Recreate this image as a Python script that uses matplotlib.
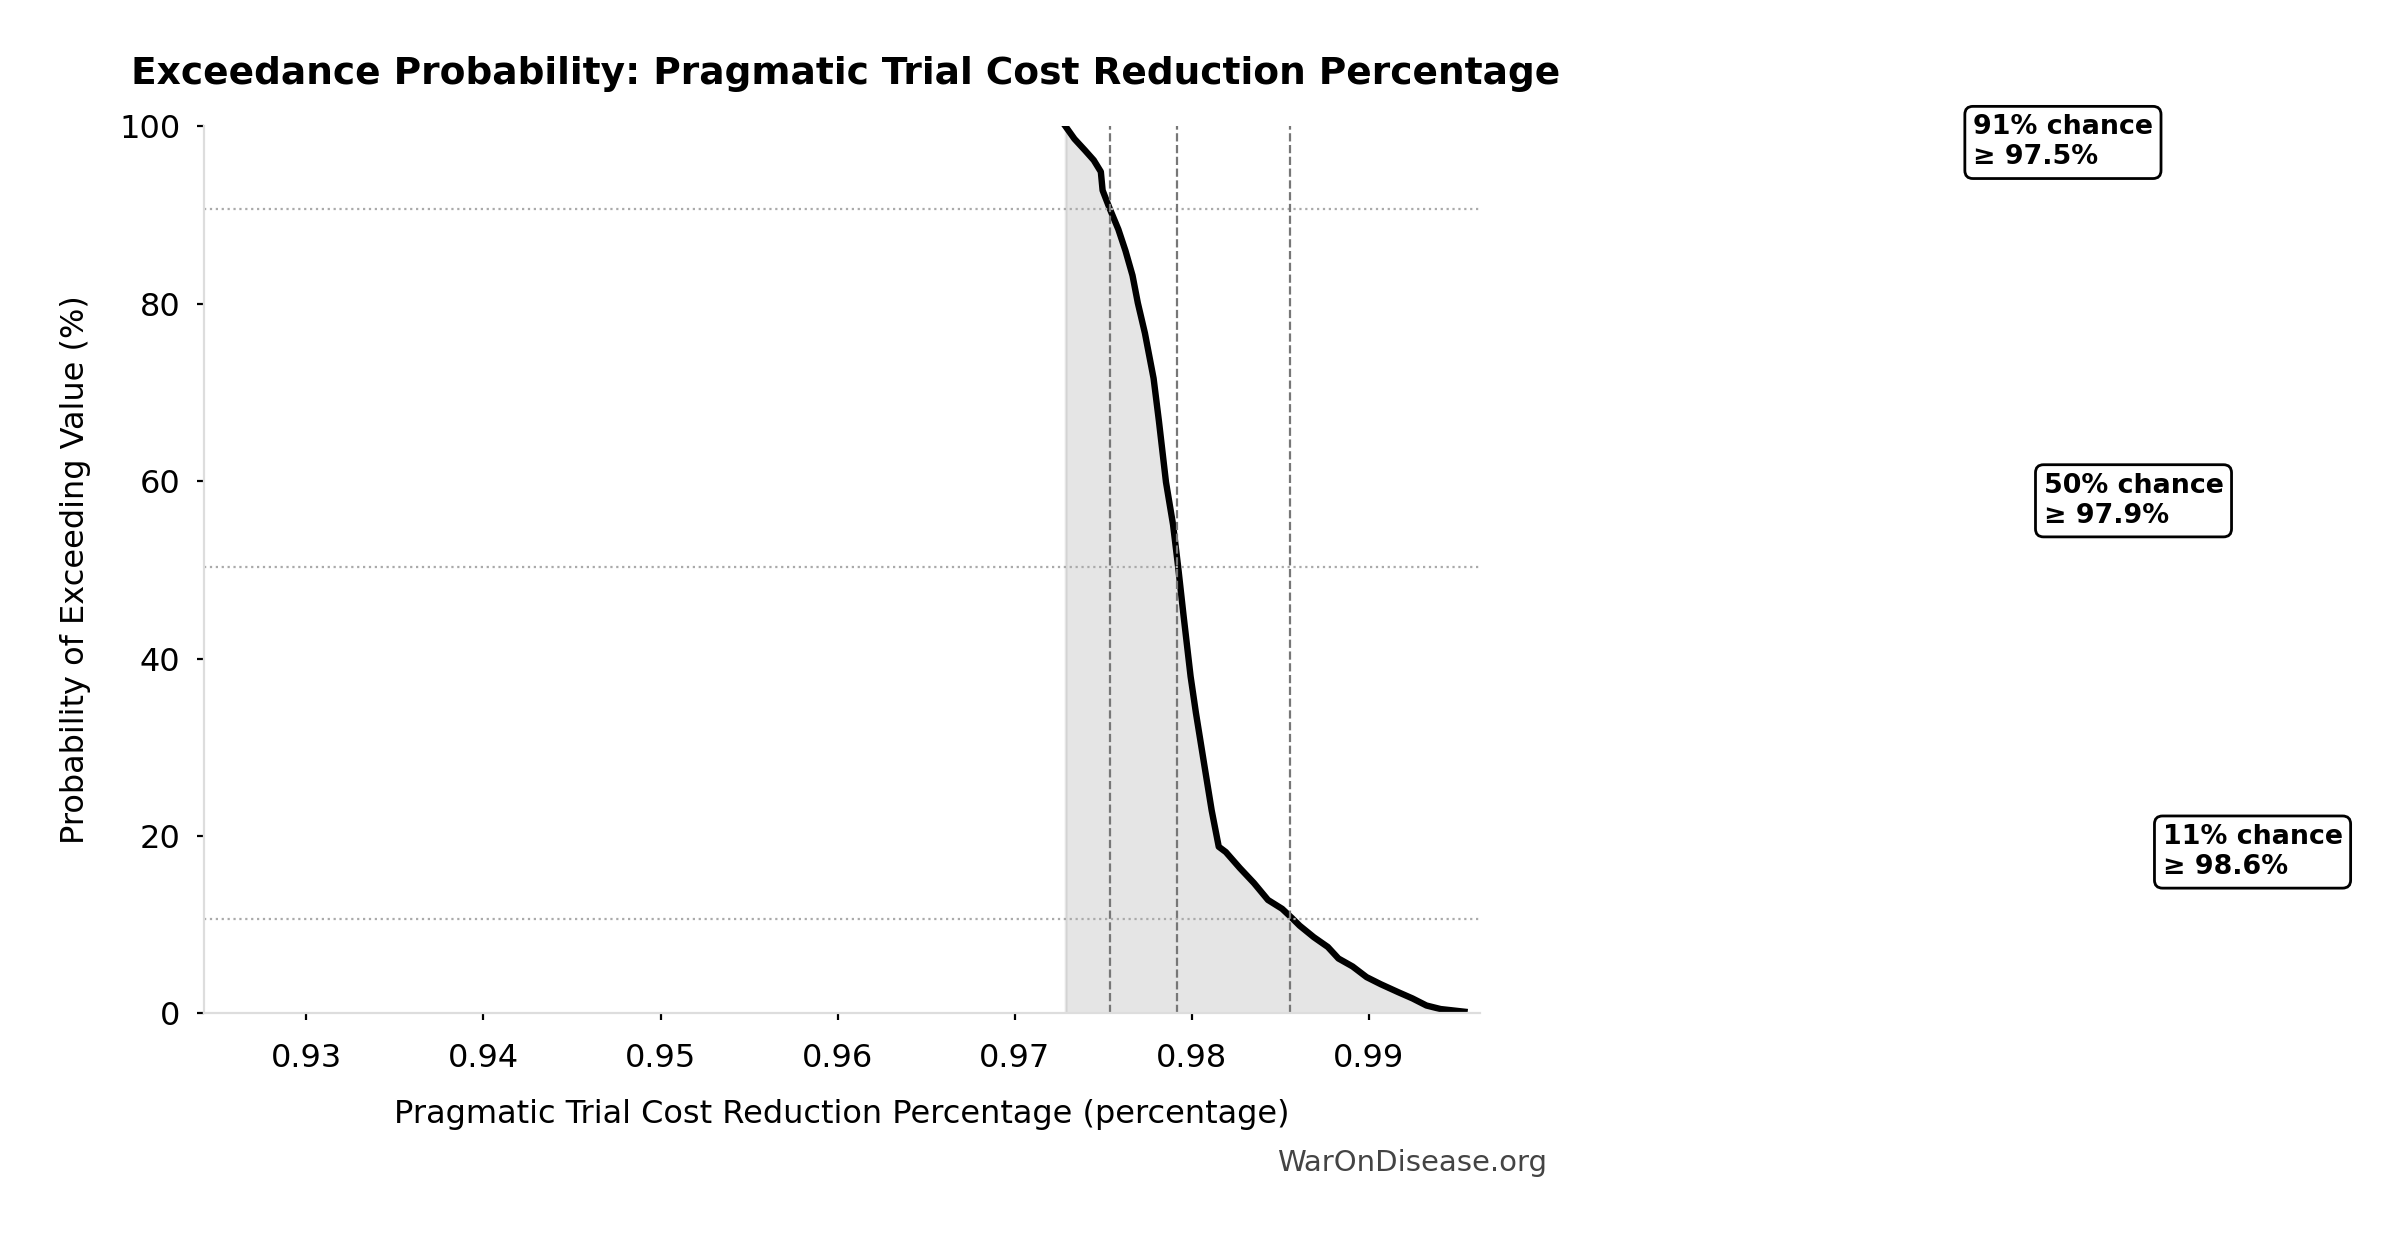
import numpy as np
import matplotlib
matplotlib.use("Agg")
import matplotlib.pyplot as plt

# exceedance curve (value, % exceeding)
values = [0.97288, 0.97338, 0.97398, 0.97447, 0.97487, 0.97497, 0.97537, 0.97586,
          0.97626, 0.97666, 0.97696, 0.97736, 0.97785, 0.97815, 0.97855, 0.97895,
          0.97924, 0.97954, 0.97994, 0.98024, 0.98074, 0.98113, 0.98153, 0.98193,
          0.98272, 0.98352, 0.98431, 0.98511, 0.98567, 0.98610, 0.98690, 0.98769,
          0.98829, 0.98909, 0.98988, 0.99068, 0.99167, 0.99247, 0.99326, 0.99406,
          0.99541]
exceed = [100.0, 98.6, 97.3, 96.2, 94.9, 92.8, 90.75, 88.4,
          86.0, 83.2, 80.1, 76.7, 71.6, 66.8, 59.9, 55.1,
          50.3, 44.9, 38.0, 33.9, 27.7, 22.9, 18.8, 18.2,
          16.4, 14.7, 12.8, 11.8, 10.75, 9.9, 8.6, 7.5,
          6.2, 5.3, 4.1, 3.3, 2.4, 1.7, 0.9, 0.5,
          0.2]

# marked thresholds
thr_values = [0.97536, 0.97916, 0.98556]
thr_probs = [90.7, 50.3, 10.7]
thr_labels = ["91% chance\n\u2265 97.5%", "50% chance\n\u2265 97.9%", "11% chance\n\u2265 98.6%"]

fig = plt.figure(figsize=(2399 / 200, 1234 / 200), dpi=200)
ax = fig.add_axes([0.0850, 0.1787, 0.5321, 0.7188])

ax.fill_between(values, exceed, color="gray", alpha=0.2)
ax.plot(values, exceed, color="black", linewidth=2.3)

for v, p, lab in zip(thr_values, thr_probs, thr_labels):
    ax.axvline(v, color="#777777", linestyle="--", linewidth=0.8)
    ax.axhline(p, color="#aaaaaa", linestyle=":", linewidth=0.8)
    ax.text(v * 1.05, p + 7.5, lab, ha="left", va="center", fontsize=9.7,
            fontweight="bold", clip_on=False,
            bbox=dict(boxstyle="round,pad=0.3", fc="white", ec="black", lw=1.0))

ax.set_xlim(0.92421, 0.99631)
ax.set_ylim(0, 100)
ax.set_xticks([0.93, 0.94, 0.95, 0.96, 0.97, 0.98, 0.99])
ax.set_yticks([0, 20, 40, 60, 80, 100])

for s in ["top", "right"]:
    ax.spines[s].set_visible(False)
for s in ["left", "bottom"]:
    ax.spines[s].set_color("#dddddd")
    ax.spines[s].set_linewidth(0.8)
ax.tick_params(axis="x", labelsize=11.5, length=2.5, width=0.8, pad=8)
ax.tick_params(axis="y", labelsize=11.5, length=2.5, width=0.8, pad=6)

ax.set_xlabel("Pragmatic Trial Cost Reduction Percentage (percentage)", fontsize=11.5, labelpad=9)
ax.set_ylabel("Probability of Exceeding Value (%)", fontsize=11.5, labelpad=10)

fig.text(846 / 2399, 1 - 74 / 1234,
         "Exceedance Probability: Pragmatic Trial Cost Reduction Percentage",
         ha="center", va="center", fontsize=13.5, fontweight="bold")
fig.text(1547 / 2399, 1 - 1163 / 1234, "WarOnDisease.org", ha="right", va="center",
         fontsize=10.5, color="#444444")

fig.savefig("out.png", dpi=200)
